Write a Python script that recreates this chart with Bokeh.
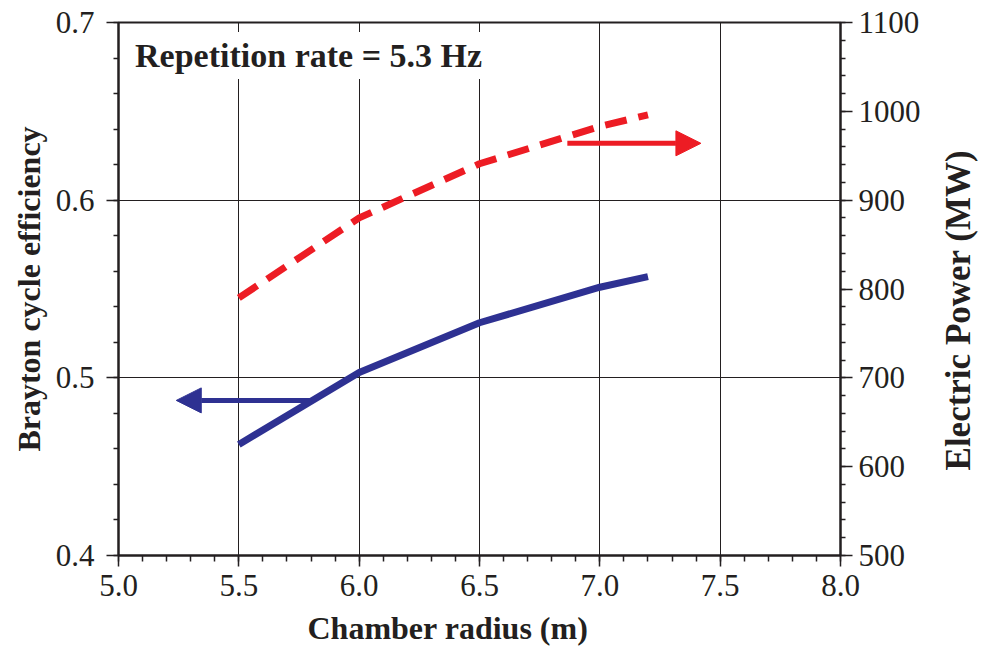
import math
from bokeh.plotting import figure
from bokeh.layouts import row
from bokeh.models import (Range1d, LinearAxis, FixedTicker, NumeralTickFormatter,
                          Label, Arrow, NormalHead, Title)
from bokeh.embed import file_html
from bokeh.resources import INLINE

# ---- data ----
radius = [5.5, 6.0, 6.5, 7.0, 7.2]
efficiency = [0.4625, 0.503, 0.531, 0.551, 0.557]
power_mw = [790, 880, 941, 983, 996]
x_ticks = [5.0, 5.5, 6.0, 6.5, 7.0, 7.5, 8.0]
x_minor = [round(5.0 + 0.1 * i, 2) for i in range(31)]
y_ticks = [0.4, 0.5, 0.6, 0.7]
y_minor = [round(0.4 + 0.02 * i, 3) for i in range(16)]
p_ticks = [500, 600, 700, 800, 900, 1000, 1100]
p_minor = [500 + 20 * i for i in range(31)]
annotation_text = "Repetition rate = 5.3 Hz"
x_title = "Chamber radius (m)"
y_left_title = "Brayton cycle efficiency"
y_right_title = "Electric Power (MW)"
# arrows: (x_start, x_end, y)
blue_arrow = (5.80, 5.24, 0.4873)
red_arrow = (6.865, 7.42, 964)

FONT = "Liberation Serif"
TXT = "#231F20"
BLUE = "#2E3192"
RED = "#ED1C24"

W_MAIN = 938
W_SIDE = 983 - W_MAIN
H = 656

p = figure(width=W_MAIN, height=H, output_backend="svg", toolbar_location=None,
           x_range=Range1d(5.0, 8.0), y_range=Range1d(0.4, 0.7),
           min_border_left=118, min_border_right=W_MAIN - 840, min_border_top=22, min_border_bottom=101,
           x_axis_location=None, y_axis_location=None)
p.extra_y_ranges = {"power": Range1d(500, 1100)}

p.outline_line_color = TXT
p.outline_line_width = 2
p.background_fill_color = "white"
p.border_fill_color = "white"

def style_axis(ax, major_out, minor_out):
    ax.axis_line_color = TXT
    ax.axis_line_width = 2
    ax.major_tick_line_color = TXT
    ax.major_tick_line_width = 1.5
    ax.minor_tick_line_color = TXT
    ax.minor_tick_line_width = 1.5
    ax.major_tick_in = 0
    ax.major_tick_out = major_out
    ax.minor_tick_in = 0
    ax.minor_tick_out = minor_out
    ax.major_label_text_font = FONT
    ax.major_label_text_font_size = "31px"
    ax.major_label_text_color = TXT
    ax.axis_label_text_font = FONT
    ax.axis_label_text_font_size = "32px"
    ax.axis_label_text_font_style = "bold"
    ax.axis_label_text_color = TXT

xaxis = LinearAxis(ticker=FixedTicker(ticks=x_ticks, minor_ticks=x_minor),
                   formatter=NumeralTickFormatter(format="0.0"))
style_axis(xaxis, 11, 6)
xaxis.major_label_standoff = 8
p.add_layout(xaxis, "below")

yaxis = LinearAxis(ticker=FixedTicker(ticks=y_ticks, minor_ticks=y_minor),
                   formatter=NumeralTickFormatter(format="0.0"), axis_label=y_left_title)
style_axis(yaxis, 12, 5)
yaxis.major_label_standoff = 12
yaxis.axis_label_standoff = 6
p.add_layout(yaxis, "left")

raxis = LinearAxis(y_range_name="power", ticker=FixedTicker(ticks=p_ticks, minor_ticks=p_minor),
                   formatter=NumeralTickFormatter(format="0"))
style_axis(raxis, 12, 5)
raxis.major_label_standoff = 6
p.add_layout(raxis, "right")

p.xgrid.ticker = FixedTicker(ticks=x_ticks)
p.ygrid.ticker = FixedTicker(ticks=y_ticks)
for g in (p.xgrid, p.ygrid):
    g.grid_line_color = "#231F20"
    g.grid_line_width = 1
    g.grid_line_alpha = 1

# lines
p.line(radius, efficiency, line_color=BLUE, line_width=7)
p.line(radius, power_mw, y_range_name="power", line_color=RED, line_width=7, line_dash="22 12")

# arrows
p.add_layout(Arrow(end=NormalHead(size=25, fill_color=BLUE, line_color=BLUE),
                   x_start=blue_arrow[0], y_start=blue_arrow[2], x_end=blue_arrow[1], y_end=blue_arrow[2],
                   line_color=BLUE, line_width=5))
p.add_layout(Arrow(end=NormalHead(size=25, fill_color=RED, line_color=RED),
                   x_start=red_arrow[0], y_start=red_arrow[2], x_end=red_arrow[1], y_end=red_arrow[2],
                   y_range_name="power", line_color=RED, line_width=5))

# annotation box
p.add_layout(Label(x=5.048, y=0.6814, text=annotation_text, text_font=FONT, text_font_size="34px",
                   text_font_style="bold", text_color=TXT, text_baseline="middle",
                   background_fill_color="white", padding=5))

# x axis title (slightly left of centre, as in the original)
xt = Title(text=x_title, align="left", offset=189, text_font=FONT, text_font_size="32px",
           text_font_style="bold", text_color=TXT, standoff=18)
p.add_layout(xt, "below")

# right-hand axis title, reading bottom-to-top, in a narrow side panel
side = figure(width=W_SIDE, height=H, output_backend="svg", toolbar_location=None,
              x_range=Range1d(0, W_SIDE), y_range=Range1d(0, H),
              min_border=0, x_axis_location=None, y_axis_location=None)
side.outline_line_color = None
side.grid.visible = False
side.background_fill_color = "white"
side.border_fill_color = "white"
side.add_layout(Label(x=958 - W_MAIN, y=302, text=y_right_title, angle=math.pi / 2,
                      text_font=FONT, text_font_size="35px", text_font_style="bold",
                      text_color=TXT, text_align="center", text_baseline="middle"))

layout = row(p, side, spacing=0)
open("out.html", "w").write(file_html(layout, INLINE))
